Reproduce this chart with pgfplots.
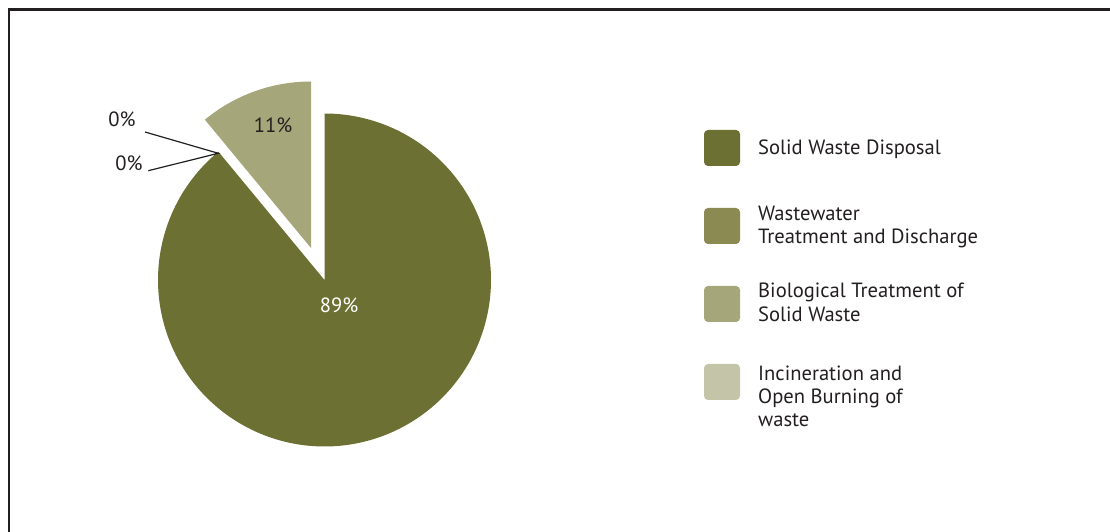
\documentclass[border=0pt]{standalone}
\usepackage{pgfplots}
\pgfplotsset{compat=1.18}
\usepackage{fontspec}
\setmainfont{PT Sans}
\definecolor{cSolid}{HTML}{6D7033}
\definecolor{cWaste}{HTML}{8A8A52}
\definecolor{cBio}{HTML}{A5A77A}
\definecolor{cInc}{HTML}{C4C4A8}
\definecolor{cText}{HTML}{231F20}
\newcommand\lf{\fontsize{20.6}{24}\selectfont}
% shares in percent
\def\pSolid{89}\def\pWaste{0}\def\pBio{11}\def\pInc{0}
\begin{document}
\begin{tikzpicture}
\pgfmathsetmacro\aSolidEnd{90-3.6*\pSolid}
\pgfmathsetmacro\aWasteEnd{\aSolidEnd-3.6*\pWaste}
\pgfmathsetmacro\aBioEnd{\aWasteEnd-3.6*\pBio}
\begin{axis}[name=ax, scale only axis, width=1110pt, height=532pt,
  xmin=0, xmax=1110, ymin=0, ymax=532, hide axis, clip=true]
% frame
\addplot[line width=2.6pt, color=cText, line cap=butt] coordinates {(9,0) (9,522.3) (1110,522.3)};
% pie wedges
\addplot[draw=none, fill=cSolid, domain=\aSolidEnd:90, samples=200, variable=\t]
  ({324.5+166.5*cos(\t)}, {252+166.5*sin(\t)}) -- (axis cs:324.5,252) -- cycle;
\addplot[draw=none, fill=cBio, domain=\aBioEnd:\aWasteEnd, samples=60, variable=\t]
  ({311+166.5*cos(\t)}, {284+166.5*sin(\t)}) -- (axis cs:311,284) -- cycle;
% leader lines
\addplot[line width=1.2pt, color=cText] coordinates {(145,400) (218.3,378.7) (148.3,361.3)};
% labels
\node[anchor=base, text=cText] at (axis cs:273,399.3) {\lf 11\%};
\node[anchor=base, text=white] at (axis cs:339,219) {\lf 89\%};
\node[anchor=base, text=cText] at (axis cs:122,405) {\lf 0\%};
\node[anchor=base, text=cText] at (axis cs:129,361) {\lf 0\%};
% legend squares
\addplot[draw=none, fill=cSolid, rounded corners=4pt] coordinates {(704,366) (740,366) (740,402) (704,402)} -- cycle;
\addplot[draw=none, fill=cWaste, rounded corners=4pt] coordinates {(704,288) (740,288) (740,324) (704,324)} -- cycle;
\addplot[draw=none, fill=cBio, rounded corners=4pt] coordinates {(704,210) (740,210) (740,246) (704,246)} -- cycle;
\addplot[draw=none, fill=cInc, rounded corners=4pt] coordinates {(704,132) (740,132) (740,168) (704,168)} -- cycle;
% legend text
\node[anchor=base west, text=cText, inner sep=0pt] at (axis cs:758,377) {\lf Solid Waste Disposal};
\node[anchor=base west, text=cText, inner sep=0pt] at (axis cs:758,311) {\lf Wastewater};
\node[anchor=base west, text=cText, inner sep=0pt] at (axis cs:758,288) {\lf Treatment and Discharge};
\node[anchor=base west, text=cText, inner sep=0pt] at (axis cs:758,234) {\lf Biological Treatment of};
\node[anchor=base west, text=cText, inner sep=0pt] at (axis cs:758,210) {\lf Solid Waste};
\node[anchor=base west, text=cText, inner sep=0pt] at (axis cs:758,151) {\lf Incineration and};
\node[anchor=base west, text=cText, inner sep=0pt] at (axis cs:758,128) {\lf Open Burning of};
\node[anchor=base west, text=cText, inner sep=0pt] at (axis cs:758,105) {\lf waste};
\end{axis}
\pgfresetboundingbox
\path (ax.south west) rectangle (ax.north east);
\end{tikzpicture}
\end{document}
